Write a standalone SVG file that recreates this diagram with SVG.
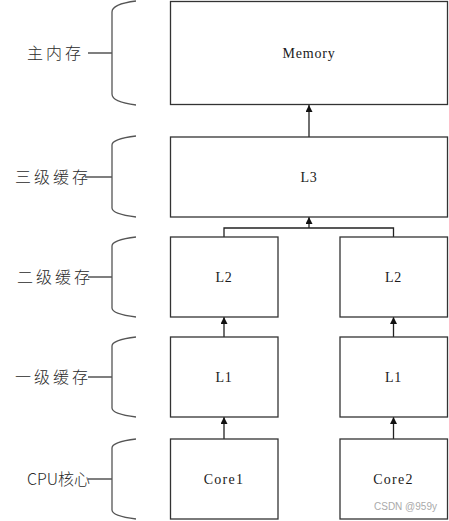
<svg xmlns="http://www.w3.org/2000/svg" width="449" height="521" viewBox="0 0 449 521">
<defs>
<marker id="ah" viewBox="0 0 10 10" refX="10" refY="5" markerWidth="7" markerHeight="7" markerUnits="userSpaceOnUse" orient="auto">
<path d="M0,0 L10,5 L0,10 z" fill="#111"/>
</marker>
<style>
.box{fill:#fff;stroke:#333;stroke-width:1.3}
.lbl{font-family:"Liberation Serif","Times New Roman",serif;font-size:14px;fill:#1a1a1a;text-anchor:middle;letter-spacing:0.8px}
.cn{font-family:"Noto Sans CJK SC","Liberation Sans",sans-serif;font-size:16px;fill:#2a2a2a;text-anchor:end;letter-spacing:3px;font-weight:300}
.brace{fill:none;stroke:#555;stroke-width:1.3}
.conn{fill:none;stroke:#222;stroke-width:1.3}
.wm{font-family:"Liberation Sans",Arial,sans-serif;font-size:10px;fill:#aaa}
</style>
</defs>
<rect width="449" height="521" fill="#fff"/>

<g id="braces">
<g id="b-mem"><path class="brace" d="M136,1 C120,3 112,7 112,12 V94 C112,99 120,103 136,105 M88,53 H112"/><text class="cn" x="84" y="59">主内存</text></g>
<g id="b-l3"><path class="brace" d="M136,136 C120,138 112,141 112,145 V208 C112,212 120,215 136,217 M85,177 H112"/><text class="cn" x="91" y="183">三级缓存</text></g>
<g id="b-l2"><path class="brace" d="M136,237 C120,239 112,242 112,246 V308 C112,312 120,315 136,317 M88,277 H112"/><text class="cn" x="93" y="283">二级缓存</text></g>
<g id="b-l1"><path class="brace" d="M136,337 C120,339 112,342 112,346 V408 C112,412 120,415 136,417 M88,377 H112"/><text class="cn" x="91" y="383">一级缓存</text></g>
<g id="b-cpu"><path class="brace" d="M136,439 C120,441 112,444 112,448 V510 C112,514 120,517 136,519 M88,479 H112"/><text class="cn" x="90" y="485" style="letter-spacing:0">CPU核心</text></g>
</g>

<g id="connectors">
<path class="conn" d="M309,137 V105" marker-end="url(#ah)"/>
<path class="conn" d="M224,237 V228 H393.5 V237"/>
<path class="conn" d="M309,228 V217" marker-end="url(#ah)"/>
<path class="conn" d="M224,337 V317" marker-end="url(#ah)"/>
<path class="conn" d="M393.5,337 V317" marker-end="url(#ah)"/>
<path class="conn" d="M224,439 V417" marker-end="url(#ah)"/>
<path class="conn" d="M393.5,439 V417" marker-end="url(#ah)"/>
</g>

<g id="memory"><rect class="box" x="170.5" y="1.5" width="277" height="103"/><text class="lbl" x="309" y="58">Memory</text></g>
<g id="l3"><rect class="box" x="170.5" y="137" width="277" height="80"/><text class="lbl" x="309" y="182">L3</text></g>
<g id="l2a"><rect class="box" x="170.5" y="237" width="107.5" height="80"/><text class="lbl" x="224" y="282">L2</text></g>
<g id="l2b"><rect class="box" x="340" y="237" width="107.5" height="80"/><text class="lbl" x="393.5" y="282">L2</text></g>
<g id="l1a"><rect class="box" x="170.5" y="337" width="107.5" height="80"/><text class="lbl" x="224" y="382">L1</text></g>
<g id="l1b"><rect class="box" x="340" y="337" width="107.5" height="80"/><text class="lbl" x="393.5" y="382">L1</text></g>
<g id="core1"><rect class="box" x="170.5" y="439" width="107.5" height="80"/><text class="lbl" x="224" y="484" style="letter-spacing:1.3px">Core1</text></g>
<g id="core2"><rect class="box" x="340" y="439" width="107.5" height="80"/><text class="lbl" x="393.5" y="484" style="letter-spacing:1.3px">Core2</text></g>

<text class="wm" x="374" y="510">CSDN @959y</text>
</svg>
